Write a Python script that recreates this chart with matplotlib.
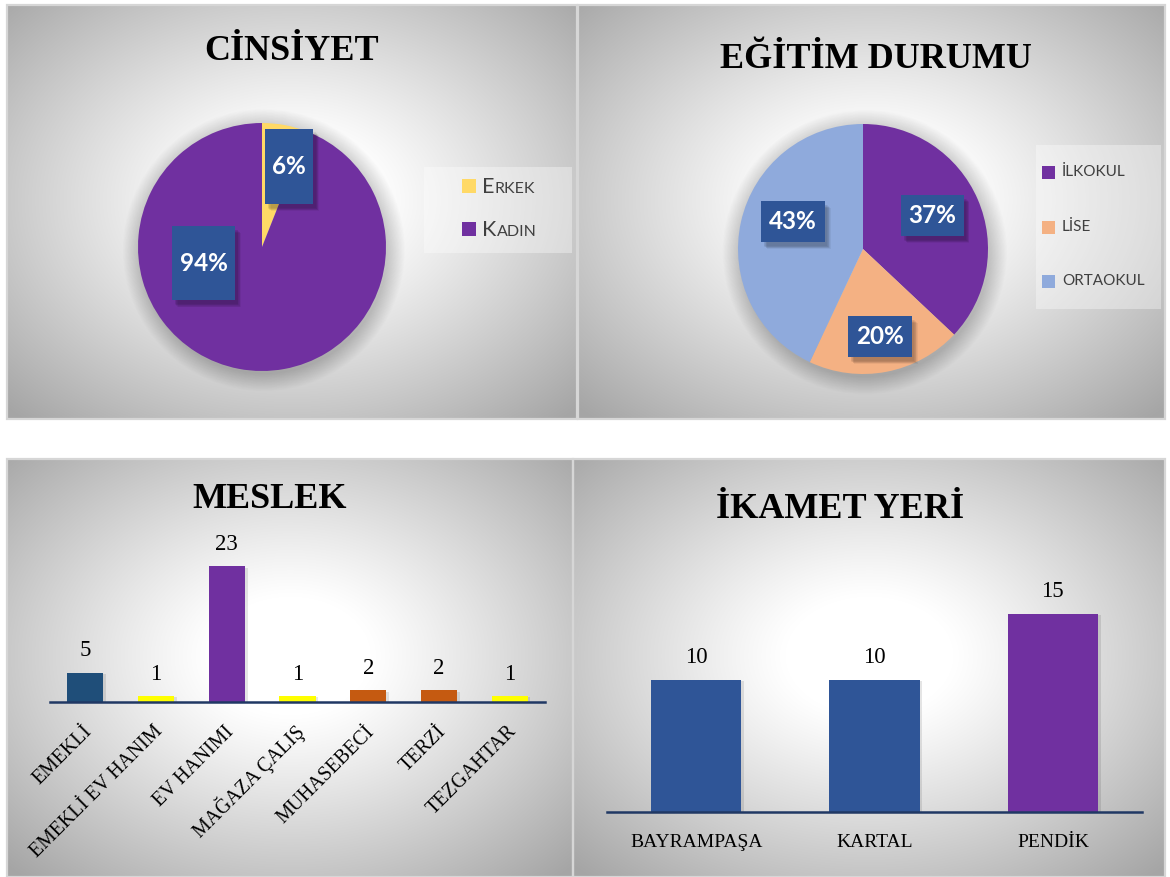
import numpy as np
import matplotlib
matplotlib.use("Agg")
import matplotlib.pyplot as plt
from matplotlib.patches import Rectangle, Circle
import matplotlib.patheffects as pe
import matplotlib.transforms as mtransforms

# ---------------- data ----------------
cinsiyet_labels = ["Erkek", "Kadın"]
cinsiyet_pct = [6, 94]

egitim_labels = ["İLKOKUL", "LİSE", "ORTAOKUL"]
egitim_pct = [37, 20, 43]

meslek_labels = ["EMEKLİ", "EMEKLİ EV HANIM", "EV HANIMI", "MAĞAZA ÇALIŞ",
                 "MUHASEBECİ", "TERZİ", "TEZGAHTAR"]
meslek_values = [5, 1, 23, 1, 2, 2, 1]

ikamet_labels = ["BAYRAMPAŞA", "KARTAL", "PENDİK"]
ikamet_values = [10, 10, 15]

# ---------------- style ----------------
W, H = 1170, 877
PURPLE = "#7030A0"
YELLOW_P = "#FFD966"
PEACH = "#F4B183"
LBLUE = "#8FAADC"
BLUE = "#2F5597"
DBLUE = "#1F4E79"
YEL = "#FFFF00"
ORANGE = "#C55A11"
AXLINE = "#203864"
SERIF = ["Liberation Serif", "DejaVu Serif"]
SANS = ["Lato", "Open Sans", "DejaVu Sans"]

meslek_colors = [DBLUE, YEL, PURPLE, YEL, ORANGE, ORANGE, YEL]
ikamet_colors = [BLUE, BLUE, PURPLE]
cinsiyet_colors = [YELLOW_P, PURPLE]
egitim_colors = [PURPLE, PEACH, LBLUE]

panels = [(7, 5, 577, 419), (578, 5, 1165, 419),
          (7, 459, 573, 877), (573, 459, 1165, 877)]

fig = plt.figure(figsize=(W / 100, H / 100), dpi=100)
fig.patch.set_facecolor("white")

# background radial gradients
bg = np.ones((H, W, 3))
yy, xx = np.mgrid[0:H, 0:W]
for (x0, y0, x1, y1) in panels:
    cx, cy = (x0 + x1) / 2, y0 + (y1 - y0) * 0.47
    hw, hh = (x1 - x0) / 2, (y1 - y0) / 2
    sub = (slice(y0, y1), slice(x0, x1))
    r = np.sqrt(((xx[sub] - cx) / hw) ** 2 + ((yy[sub] - cy) / hh) ** 2) / np.sqrt(2)
    t = np.clip((r - 0.2) / 0.8, 0, 1) ** 1.1
    v = 1 - 0.35 * t
    bg[sub] = v[..., None]
fig.figimage(bg, xo=0, yo=0, origin="upper", zorder=-10)


def px_axes(x0, y0, x1, y1, z=1):
    ax = fig.add_axes([x0 / W, 1 - y1 / H, (x1 - x0) / W, (y1 - y0) / H])
    ax.set_zorder(z)
    ax.patch.set_alpha(0)
    return ax


# overlay axes in pixel coordinates
ov = px_axes(0, 0, W, H, z=0)
ov.set_xlim(0, W)
ov.set_ylim(H, 0)
ov.axis("off")
for (x0, y0, x1, y1) in panels:
    ov.add_patch(Rectangle((x0, y0), x1 - x0, y1 - y0, fill=False,
                           ec="#d6d6d6", lw=1.6))

# titles
titles = [("CİNSİYET", 292, 52), ("EĞİTİM DURUMU", 876, 59),
          ("MESLEK", 270, 500), ("İKAMET YERİ", 840, 510)]
for txt, x, y in titles:
    ov.text(x, y, txt, ha="center", va="center", fontsize=26,
            fontweight="bold", family=SERIF, color="black")


# ---------------- pies ----------------
def pie_panel(cx, cy, r, values, colors, boxes):
    half = 1.25 * r
    ax = px_axes(cx - half, cy - half, cx + half, cy + half, z=2)
    # soft shadow
    for k in range(24):
        ax.add_patch(Circle((0.015, -0.025), 1.0 + 0.006 * k, color="black",
                            alpha=0.009, lw=0, zorder=0))
    wedges, _ = ax.pie(values, colors=colors, startangle=90,
                       counterclock=False, radius=1,
                       wedgeprops=dict(linewidth=0))
    for w in wedges:
        w.set_zorder(1)
    ax.set_xlim(-1.25, 1.25)
    ax.set_ylim(-1.25, 1.25)
    for val, (bx, by, bw, bh) in zip(values, boxes):
        for k in range(6):
            ax.add_patch(Rectangle((bx - bw / 2 + 0.02 + 0.005 * k,
                                    by - bh / 2 - 0.03 - 0.005 * k),
                                   bw, bh, color="black", alpha=0.05,
                                   lw=0, zorder=3))
        ax.add_patch(Rectangle((bx - bw / 2, by - bh / 2), bw, bh,
                               color=BLUE, lw=0, zorder=4))
        ax.text(bx, by, f"{val}%", ha="center", va="center", color="white",
                fontsize=17.5, fontweight="bold", family=SANS, zorder=5)
    return ax


pie_panel(262, 247, 124, cinsiyet_pct, cinsiyet_colors,
          [(0.22, 0.65, 0.39, 0.61), (-0.47, -0.13, 0.51, 0.60)])
pie_panel(863, 249, 125, egitim_pct, egitim_colors,
          [(0.556, 0.268, 0.50, 0.33), (0.136, -0.70, 0.51, 0.33),
           (-0.56, 0.22, 0.51, 0.33)])

# legend 1 (small caps)
ov.add_patch(Rectangle((424, 167), 148, 86, color="white", alpha=0.35, lw=0))
renderer = fig.canvas.get_renderer()
for lab, col, yb in zip(cinsiyet_labels, cinsiyet_colors, [193, 236]):
    ov.add_patch(Rectangle((462, yb - 14), 14, 14, color=col, lw=0))
    up = lab.upper()
    t1 = ov.text(482, yb, up[0], fontsize=15.5, family=SANS, color="#404040",
                 va="baseline", ha="left")
    ext = t1.get_window_extent(renderer)
    xr = ov.transData.inverted().transform((ext.x1, ext.y0))[0]
    ov.text(xr + 0.5, yb, up[1:], fontsize=11.5, family=SANS, color="#404040",
            va="baseline", ha="left")

# legend 2
ov.add_patch(Rectangle((1036, 145), 125, 164, color="white", alpha=0.35, lw=0))
for lab, col, yc in zip(egitim_labels, egitim_colors, [172, 227, 281]):
    ov.add_patch(Rectangle((1042, yc - 6.5), 13, 13, color=col, lw=0))
    ov.text(1062, yc, lab, fontsize=11, family=SANS, color="#404040",
            va="center", ha="left")

shadow = [pe.SimplePatchShadow(offset=(2, -1), shadow_rgbFace="black",
                               alpha=0.10), pe.Normal()]


def bar_panel(x0, x1, ybase, ppu, ytop_units, labels, values, colors,
              width, rot):
    ytop = ybase - ppu * ytop_units
    ax = px_axes(x0, ytop, x1, ybase, z=2)
    xs = np.arange(len(values))
    bars = ax.bar(xs, values, width=width, color=colors, zorder=2)
    for b in bars:
        b.set_path_effects(shadow)
    ax.set_xlim(-0.5, len(values) - 0.5)
    ax.set_ylim(0, ytop_units)
    for s in ["top", "right", "left"]:
        ax.spines[s].set_visible(False)
    ax.spines["bottom"].set_color(AXLINE)
    ax.spines["bottom"].set_linewidth(1.8)
    ax.spines["bottom"].set_zorder(3)
    ax.set_yticks([])
    ax.set_xticks(xs)
    ax.set_xticklabels([])
    ax.tick_params(axis="x", length=0)
    for x, v in zip(xs, values):
        ax.annotate(str(v), (x, v), xytext=(0, 8), textcoords="offset points",
                    ha="center", va="bottom", fontsize=16.5, family=SERIF)
    base = ax.get_xaxis_transform()
    if rot:
        off = mtransforms.ScaledTranslation(4 / 100, -27 / 100,
                                            fig.dpi_scale_trans)
        for x, lab in zip(xs, labels):
            ax.text(x, 0, lab, transform=base + off, rotation=45, ha="right",
                    va="center", rotation_mode="anchor", fontsize=14.3,
                    family=SERIF, clip_on=False)
    else:
        off = mtransforms.ScaledTranslation(0, -31 / 100, fig.dpi_scale_trans)
        for x, lab in zip(xs, labels):
            ax.text(x, 0, lab, transform=base + off, ha="center",
                    va="center", fontsize=14, family=SERIF, clip_on=False)
    return ax


bar_panel(50, 545, 702, 5.9, 28, meslek_labels, meslek_values, meslek_colors,
          0.51, True)
bar_panel(607, 1142, 811.5, 13.2, 17.5, ikamet_labels, ikamet_values,
          ikamet_colors, 0.505, False)

fig.savefig("out.png", dpi=100)
